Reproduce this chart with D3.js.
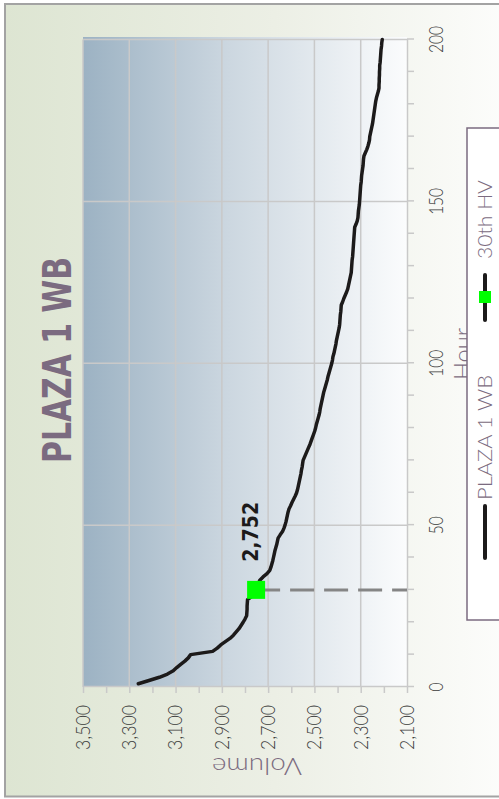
<!DOCTYPE html>
<html>
<head>
<meta charset="utf-8">
<script src="https://cdn.jsdelivr.net/npm/d3@7"></script>
<style>
  body { margin: 0; background: #fff; }
  svg { display: block; }
</style>
</head>
<body>
<svg id="chart" width="499" height="799"></svg>
<script>
// sorted hourly volumes, hour 1..200
var volumes = [
  3261, 3215, 3170, 3135, 3110, 3095, 3078, 3060, 3045, 3035,
  2940, 2920, 2905, 2885, 2865, 2850, 2838, 2826, 2817, 2808,
  2800, 2793, 2792, 2791, 2791, 2790, 2789, 2770, 2760, 2752,
  2748, 2742, 2736, 2722, 2705, 2693, 2688, 2684, 2680, 2677,
  2674, 2671, 2667, 2663, 2660, 2657, 2648, 2638, 2632, 2627,
  2623, 2620, 2617, 2614, 2610, 2603, 2597, 2590, 2583, 2577,
  2573, 2570, 2567, 2564, 2561, 2558, 2556, 2553, 2551, 2549,
  2543, 2537, 2531, 2525, 2519, 2514, 2509, 2504, 2499, 2495,
  2492, 2488, 2484, 2480, 2477, 2475, 2472, 2469, 2466, 2463,
  2460, 2456, 2452, 2448, 2444, 2441, 2437, 2433, 2429, 2425,
  2422, 2420, 2416, 2413, 2410, 2407, 2405, 2402, 2399, 2396,
  2393, 2391, 2390, 2389, 2388, 2386, 2385, 2384, 2378, 2373,
  2367, 2361, 2356, 2353, 2350, 2347, 2344, 2341, 2340, 2339,
  2338, 2337, 2335, 2334, 2333, 2332, 2331, 2330, 2329, 2328,
  2327, 2326, 2320, 2315, 2312, 2311, 2310, 2308, 2306, 2305,
  2304, 2303, 2302, 2301, 2300, 2298, 2297, 2296, 2294, 2292,
  2290, 2289, 2288, 2286, 2280, 2274, 2269, 2265, 2262, 2261,
  2258, 2255, 2252, 2249, 2247, 2245, 2243, 2241, 2239, 2237,
  2235, 2232, 2228, 2224, 2221, 2221, 2220, 2220, 2219, 2219,
  2218, 2218, 2216, 2215, 2214, 2213, 2212, 2210, 2209, 2207
];
var hvHour = [30];
var hvVolume = [2752];
var hourLabels = [0, 50, 100, 150, 200];
var hourMinor = [0, 10, 20, 30, 40, 50, 60, 70, 80, 90, 100, 110, 120, 130, 140, 150, 160, 170, 180, 190, 200];
var volumeLabels = [3500, 3300, 3100, 2900, 2700, 2500, 2300, 2100];
var volumeMinor = [2100, 2200, 2300, 2400, 2500, 2600, 2700, 2800, 2900, 3000, 3100, 3200, 3300, 3400, 3500];
var legendNames = ["PLAZA 1 WB", "30th HV"];

var fmt = d3.format(",");
var labelFont = "Lato, 'DejaVu Sans', sans-serif";
var mauve = "#7b6b80";

var svg = d3.select("#chart");
var defs = svg.append("defs");

var bg = defs.append("linearGradient").attr("id", "bgGrad")
    .attr("x1", 0).attr("y1", 0).attr("x2", 0).attr("y2", 1);
bg.append("stop").attr("offset", 0).attr("stop-color", "#dde5d2");
bg.append("stop").attr("offset", 0.5).attr("stop-color", "#eceFe5");
bg.append("stop").attr("offset", 1).attr("stop-color", "#ffffff");

var pg = defs.append("linearGradient").attr("id", "plotGrad")
    .attr("x1", 0).attr("y1", 0).attr("x2", 0).attr("y2", 1);
pg.append("stop").attr("offset", 0).attr("stop-color", "#9cb2c3");
pg.append("stop").attr("offset", 0.45).attr("stop-color", "#ccd7e0");
pg.append("stop").attr("offset", 1).attr("stop-color", "#fbfcfd");

// chart is drawn upright then turned a quarter to the left
var g = svg.append("g").attr("transform", "translate(0,799) rotate(-90)");

g.append("rect")
    .attr("x", 2.5).attr("y", 5).attr("width", 792.5).attr("height", 540)
    .attr("fill", "url(#bgGrad)")
    .attr("stroke", "#a3a3a3").attr("stroke-width", 2);

var x = d3.scaleLinear().domain([0, 200]).range([112, 759.5]);
var y = d3.scaleLinear().domain([2100, 3500]).range([407, 83]);

g.append("rect")
    .attr("x", x(0)).attr("y", y(3500))
    .attr("width", x(200) - x(0) + 2.5).attr("height", y(2100) - y(3500))
    .attr("fill", "url(#plotGrad)");

// grid
g.append("g").selectAll("line")
    .data(hourLabels.filter(function(d) { return d > 0; }))
    .enter().append("line")
    .attr("x1", function(d) { return x(d); }).attr("x2", function(d) { return x(d); })
    .attr("y1", y(3500)).attr("y2", y(2100))
    .attr("stroke", "#c9c9c9").attr("stroke-width", 1.5);

g.append("g").selectAll("line")
    .data(volumeLabels.filter(function(d) { return d > 2100; }))
    .enter().append("line")
    .attr("x1", x(0)).attr("x2", x(200))
    .attr("y1", function(d) { return y(d); }).attr("y2", function(d) { return y(d); })
    .attr("stroke", "#c9c9c9").attr("stroke-width", 1.5);

// axes
var xAxis = g.append("g").attr("transform", "translate(0," + y(2100) + ")")
    .call(d3.axisBottom(x).tickValues(hourMinor).tickSize(7).tickSizeOuter(0).tickFormat(""));
var yAxis = g.append("g").attr("transform", "translate(" + x(0) + ",0)")
    .call(d3.axisLeft(y).tickValues(volumeMinor).tickSize(6).tickSizeOuter(0).tickFormat(""));
[xAxis, yAxis].forEach(function(a) {
  a.select(".domain").attr("stroke", "#c9c9c9").attr("stroke-width", 1.5);
  a.selectAll(".tick line").attr("stroke", "#c9c9c9").attr("stroke-width", 1.5);
});

g.append("g").selectAll("text")
    .data(hourLabels).enter().append("text")
    .attr("x", function(d) { return x(d); })
    .attr("y", 443)
    .attr("text-anchor", "middle")
    .attr("font-family", labelFont).attr("font-weight", 300)
    .attr("font-size", 19).attr("fill", "#3a3a3a")
    .attr("textLength", function(d) { return String(d).length * 9; })
    .attr("lengthAdjust", "spacingAndGlyphs")
    .text(function(d) { return d; });

g.append("g").selectAll("text")
    .data(volumeLabels).enter().append("text")
    .attr("x", 94)
    .attr("y", function(d) { return y(d); })
    .attr("dy", "0.36em")
    .attr("text-anchor", "end")
    .attr("font-family", labelFont).attr("font-weight", 300)
    .attr("font-size", 19).attr("fill", "#3a3a3a")
    .attr("textLength", 45)
    .attr("lengthAdjust", "spacingAndGlyphs")
    .text(function(d) { return fmt(d); });

// axis titles
g.append("text")
    .attr("transform", "translate(41,257) rotate(-90)")
    .attr("text-anchor", "middle")
    .attr("font-family", labelFont).attr("font-weight", 300)
    .attr("font-size", 23).attr("fill", mauve)
    .attr("textLength", 90).attr("lengthAdjust", "spacingAndGlyphs")
    .text("Volume");

g.append("text")
    .attr("x", 445).attr("y", 471)
    .attr("text-anchor", "middle")
    .attr("font-family", labelFont).attr("font-weight", 300)
    .attr("font-size", 23).attr("fill", mauve)
    .attr("textLength", 52).attr("lengthAdjust", "spacingAndGlyphs")
    .text("Hour");

// title
g.append("text")
    .attr("x", 439).attr("y", 71)
    .attr("text-anchor", "middle")
    .attr("font-family", "'DejaVu Sans', sans-serif").attr("font-weight", "bold")
    .attr("font-size", 39).attr("fill", mauve)
    .attr("textLength", 206).attr("lengthAdjust", "spacingAndGlyphs")
    .text("PLAZA 1 WB");

// 30th hour drop line
g.append("line")
    .attr("x1", x(hvHour[0])).attr("x2", x(hvHour[0]))
    .attr("y1", y(hvVolume[0])).attr("y2", y(2100))
    .attr("stroke", "#858585").attr("stroke-width", 3)
    .attr("stroke-dasharray", "24,10");

var line = d3.line()
    .x(function(d, i) { return x(i + 1); })
    .y(function(d) { return y(d); });

g.append("path")
    .datum(volumes)
    .attr("d", line)
    .attr("fill", "none")
    .attr("stroke", "#1c1a1a").attr("stroke-width", 3.5)
    .attr("stroke-linejoin", "round").attr("stroke-linecap", "round");

g.selectAll(".hv").data(hvHour).enter().append("rect")
    .attr("class", "hv")
    .attr("x", function(d) { return x(d) - 9; })
    .attr("y", function(d, i) { return y(hvVolume[i]) - 9; })
    .attr("width", 18).attr("height", 18)
    .attr("fill", "#00ff00");

g.selectAll(".hvlabel").data(hvHour).enter().append("text")
    .attr("class", "hvlabel")
    .attr("x", function(d) { return x(d) + 28; })
    .attr("y", function(d, i) { return y(hvVolume[i]) + 2; })
    .attr("font-family", "'DejaVu Sans', sans-serif").attr("font-weight", "bold")
    .attr("font-size", 21).attr("fill", "#1c1a1a")
    .attr("textLength", 60).attr("lengthAdjust", "spacingAndGlyphs")
    .text(function(d, i) { return fmt(hvVolume[i]); });

// legend
var lg = g.append("g");
lg.append("rect")
    .attr("x", 179).attr("y", 467).attr("width", 492).attr("height", 80)
    .attr("fill", "#ffffff")
    .attr("stroke", mauve).attr("stroke-width", 1.5);

var legendX = [241, 479];
var legendLen = [125, 79];
lg.selectAll(".lline").data(legendNames).enter().append("line")
    .attr("x1", function(d, i) { return legendX[i]; })
    .attr("x2", function(d, i) { return legendX[i] + (i ? 45 : 52); })
    .attr("y1", 485).attr("y2", 485)
    .attr("stroke", "#1c1a1a").attr("stroke-width", 4)
    .attr("stroke-linecap", "round");

lg.append("rect")
    .attr("x", 496).attr("y", 479).attr("width", 12).attr("height", 12)
    .attr("fill", "#00ff00");

lg.selectAll(".ltext").data(legendNames).enter().append("text")
    .attr("x", function(d, i) { return legendX[i] + (i ? 61 : 58); })
    .attr("y", 492)
    .attr("font-family", labelFont).attr("font-weight", 300)
    .attr("font-size", 19).attr("fill", mauve)
    .attr("textLength", function(d, i) { return legendLen[i]; })
    .attr("lengthAdjust", "spacingAndGlyphs")
    .text(function(d) { return d; });
</script>
</body>
</html>
